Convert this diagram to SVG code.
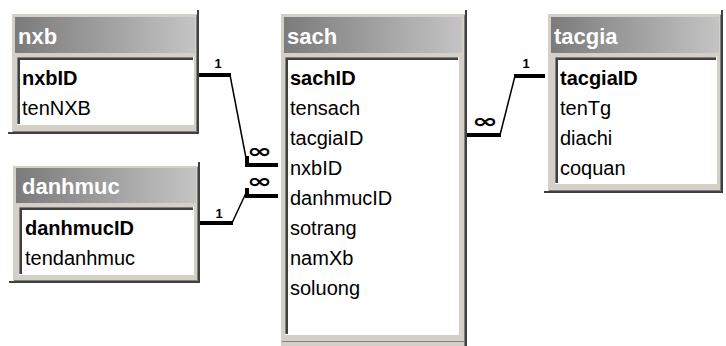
<svg xmlns="http://www.w3.org/2000/svg" width="726" height="346" viewBox="0 0 726 346">
<defs>
<linearGradient id="tg" x1="0" y1="0" x2="1" y2="0">
<stop offset="0" stop-color="#7b7b7b"/>
<stop offset="1" stop-color="#c4c4c4"/>
</linearGradient>
<style>
.frame{fill:#d4d0c8}
.hi{fill:none;stroke:#ffffff;stroke-width:1}
.md{fill:none;stroke:#808080;stroke-width:1}
.dk{fill:none;stroke:#404040;stroke-width:2}
.bar{fill:url(#tg)}
.field{fill:#ffffff}
.title{font-family:"Liberation Sans",Arial,sans-serif;font-weight:bold;font-size:22px;fill:#ffffff}
.f{font-family:"Liberation Sans",Arial,sans-serif;font-size:20px;fill:#000000}
.k{font-weight:bold}
.thick{fill:none;stroke:#000;stroke-width:4;stroke-linejoin:miter}
.thin{fill:none;stroke:#000;stroke-width:1.5}
.one{font-family:"Liberation Sans",Arial,sans-serif;font-weight:bold;font-size:13px;fill:#000;text-anchor:middle}
.inf{font-family:"DejaVu Sans",sans-serif;font-weight:bold;font-size:20px;fill:#000}
</style>
</defs>
<rect width="726" height="346" fill="#ffffff"/>

<g id="nxb">
<rect class="frame" x="11" y="13" width="188" height="121"/>
<path class="hi" d="M11.5,133 V13.5 H197"/>
<path class="md" d="M196.5,15 V131.5 H13"/>
<path class="dk" d="M198,10 V133 H8"/>
<rect class="bar" x="15" y="17" width="180" height="36"/>
<rect class="field" x="17" y="57" width="176" height="67"/>
<path class="md" d="M17.5,124 V57.5 H193"/>
<path class="dk" d="M19,124 V59 H193"/>
<path class="hi" d="M17,124.5 H193.5 V57"/>
<text class="title" x="18" y="44">nxb</text>
<text class="f k" x="22" y="85">nxbID</text>
<text class="f" x="22" y="115">tenNXB</text>
</g>

<g id="danhmuc">
<rect class="frame" x="12" y="165" width="188" height="118"/>
<path class="hi" d="M12.5,282 V165.5 H198"/>
<path class="md" d="M197.5,167 V280.5 H14"/>
<path class="dk" d="M199,162 V282 H9"/>
<rect class="bar" x="16" y="168" width="180" height="35"/>
<rect class="field" x="19" y="207" width="174" height="67"/>
<path class="md" d="M19.5,274 V207.5 H193"/>
<path class="dk" d="M21,274 V209 H193"/>
<path class="hi" d="M19,274.5 H193.5 V207"/>
<text class="title" x="22" y="194">danhmuc</text>
<text class="f k" x="25" y="235">danhmucID</text>
<text class="f" x="25" y="265">tendanhmuc</text>
</g>

<g id="sach">
<rect class="frame" x="280" y="13" width="187" height="333"/>
<path class="hi" d="M280.5,346 V13.5 H465"/>
<path class="md" d="M464.5,15 V346"/>
<path class="dk" d="M466,10 V346"/>
<rect class="bar" x="284" y="17" width="178" height="36"/>
<rect class="field" x="285" y="57" width="173" height="277"/>
<path class="md" d="M285.5,334 V57.5 H458"/>
<path class="dk" d="M287,334 V59 H458"/>
<path class="hi" d="M285,334.5 H458.5 V57"/>
<path class="md" d="M282,341.5 H464"/>
<text class="title" x="287" y="44">sach</text>
<text class="f k" x="290" y="85">sachID</text>
<text class="f" x="290" y="115">tensach</text>
<text class="f" x="290" y="145">tacgiaID</text>
<text class="f" x="290" y="175">nxbID</text>
<text class="f" x="290" y="205">danhmucID</text>
<text class="f" x="290" y="235">sotrang</text>
<text class="f" x="290" y="265">namXb</text>
<text class="f" x="290" y="295">soluong</text>
</g>

<g id="tacgia">
<rect class="frame" x="547" y="13" width="176" height="180"/>
<path class="hi" d="M547.5,192 V13.5 H721"/>
<path class="md" d="M720.5,15 V190.5 H549"/>
<path class="dk" d="M722,10 V192 H544"/>
<rect class="bar" x="551" y="17" width="168" height="36"/>
<rect class="field" x="555" y="57" width="161" height="126"/>
<path class="md" d="M555.5,183 V57.5 H716"/>
<path class="dk" d="M557,183 V59 H716"/>
<path class="hi" d="M555,183.5 H716.5 V57"/>
<text class="title" x="554" y="44">tacgia</text>
<text class="f k" x="560" y="85">tacgiaID</text>
<text class="f" x="560" y="115">tenTg</text>
<text class="f" x="560" y="145">diachi</text>
<text class="f" x="560" y="175">coquan</text>
</g>

<g id="connectors">
<path class="thick" d="M199,75 H231"/>
<path class="thin" d="M230,75 L246,158"/>
<path class="thick" d="M247,156 V165 H278"/>
<text class="one" x="218" y="68">1</text>
<text class="inf" x="247" y="158" textLength="25" lengthAdjust="spacingAndGlyphs">∞</text>

<path class="thick" d="M200,223 H233"/>
<path class="thin" d="M232,223 L246,193"/>
<path class="thick" d="M247,188 V196 H278"/>
<text class="one" x="219" y="218">1</text>
<text class="inf" x="247" y="188" textLength="25" lengthAdjust="spacingAndGlyphs">∞</text>

<path class="thick" d="M467,135 H501"/>
<path class="thin" d="M500,135 L515,76"/>
<path class="thick" d="M514,76 H545"/>
<text class="one" x="526" y="68">1</text>
<text class="inf" x="472" y="128" textLength="26" lengthAdjust="spacingAndGlyphs">∞</text>
</g>
</svg>
